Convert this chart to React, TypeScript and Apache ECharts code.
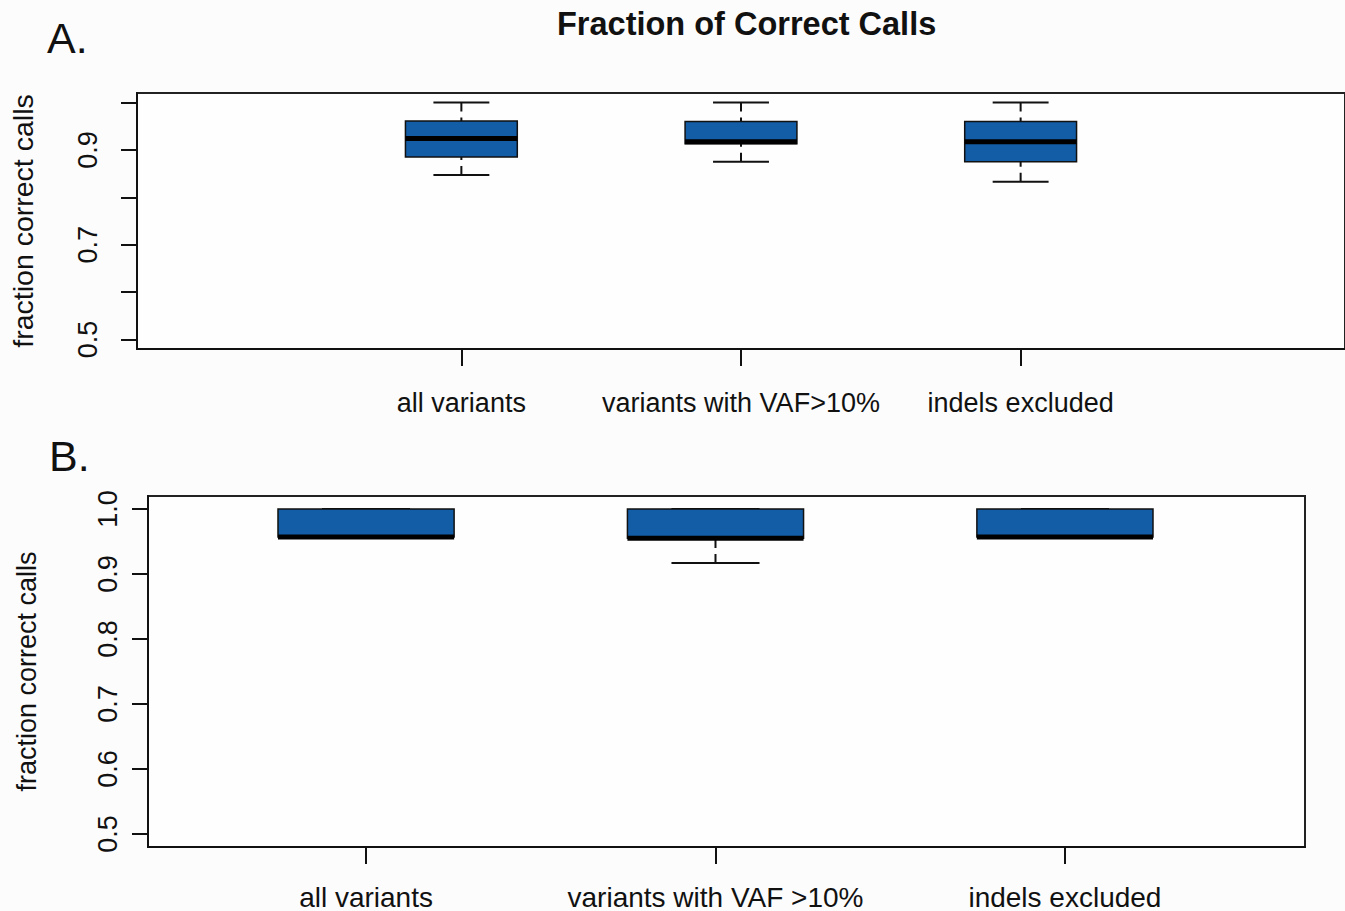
import React, { useEffect, useRef } from "react";
import * as echarts from "echarts";

// ---- Data ----
const positions = [1, 2, 3];
const categoriesA = ["all variants", "variants with VAF>10%", "indels excluded"];
const categoriesB = ["all variants", "variants with VAF >10%", "indels excluded"];

// Panel A: five-number summaries
const aMin = [0.847, 0.875, 0.833];
const aQ1 = [0.885, 0.913, 0.875];
const aMedian = [0.924, 0.917, 0.917];
const aQ3 = [0.961, 0.96, 0.96];
const aMax = [1.0, 1.0, 1.0];

// Panel B: five-number summaries
const bMin = [0.957, 0.917, 0.957];
const bQ1 = [0.957, 0.955, 0.957];
const bMedian = [0.957, 0.955, 0.957];
const bQ3 = [1.0, 1.0, 1.0];
const bMax = [1.0, 1.0, 1.0];

const yTicks = [0.5, 0.6, 0.7, 0.8, 0.9, 1.0];
const yLabelsA = [0.5, 0.7, 0.9];
const yLabelsB = [0.5, 0.6, 0.7, 0.8, 0.9, 1.0];

const FONT = '"Liberation Sans", Arial, Helvetica, sans-serif';
const BOX_FILL = "#135ca6";
const INK = "#111111";

function buildData(mins: number[], q1: number[], med: number[], q3: number[], max: number[]) {
  return positions.map((p, i) => [p, mins[i], q1[i], med[i], q3[i], max[i]]);
}

function makeRender(boxWidth: number) {
  return (params: any, api: any) => {
    const x = api.value(0);
    const pMin = api.coord([x, api.value(1)]);
    const pQ1 = api.coord([x, api.value(2)]);
    const pMed = api.coord([x, api.value(3)]);
    const pQ3 = api.coord([x, api.value(4)]);
    const pMax = api.coord([x, api.value(5)]);
    const cx = pMin[0];
    const half = api.size([boxWidth, 0])[0] / 2;
    const capHalf = half / 2;
    const dash = { stroke: INK, lineWidth: 2, lineDash: [9, 6] };
    const solid = { stroke: INK, lineWidth: 2 };
    return {
      type: "group",
      children: [
        { type: "line", shape: { x1: cx, y1: pMax[1], x2: cx, y2: pQ3[1] }, style: dash },
        { type: "line", shape: { x1: cx, y1: pMin[1], x2: cx, y2: pQ1[1] }, style: dash },
        { type: "line", shape: { x1: cx - capHalf, y1: pMax[1], x2: cx + capHalf, y2: pMax[1] }, style: solid },
        { type: "line", shape: { x1: cx - capHalf, y1: pMin[1], x2: cx + capHalf, y2: pMin[1] }, style: solid },
        {
          type: "rect",
          shape: { x: cx - half, y: pQ3[1], width: half * 2, height: pQ1[1] - pQ3[1] },
          style: { fill: BOX_FILL, stroke: INK, lineWidth: 1.5 },
        },
        {
          type: "line",
          shape: { x1: cx - half, y1: pMed[1], x2: cx + half, y2: pMed[1] },
          style: { stroke: "#000", lineWidth: 5 },
        },
      ],
    };
  };
}

function yAxisCfg(gridIndex: number, labels: number[], margin: number, nameGap: number, nameSize: number) {
  return {
    type: "value",
    gridIndex,
    min: 0.48,
    max: 1.02,
    splitLine: { show: false },
    axisLine: { show: true, onZero: false, lineStyle: { color: INK, width: 2 } },
    axisTick: { show: true, customValues: yTicks, length: 16, lineStyle: { color: INK, width: 2 } },
    axisLabel: {
      show: true,
      customValues: labels,
      rotate: 90,
      margin,
      color: "#111",
      fontFamily: FONT,
      fontSize: 27,
      formatter: (v: number) => v.toFixed(1),
    },
    name: "fraction correct calls",
    nameLocation: "middle",
    nameRotate: 90,
    nameGap,
    nameTextStyle: { color: "#111", fontFamily: FONT, fontSize: nameSize },
  };
}

function xAxisCfg(gridIndex: number, min: number, max: number, cats: string[], margin: number, size: number) {
  return {
    type: "value",
    gridIndex,
    min,
    max,
    splitLine: { show: false },
    axisLine: { show: true, onZero: false, lineStyle: { color: INK, width: 2 } },
    axisTick: { show: true, customValues: positions, length: 17, lineStyle: { color: INK, width: 2 } },
    axisLabel: {
      show: true,
      customValues: positions,
      margin,
      color: "#111",
      fontFamily: FONT,
      fontSize: size,
      formatter: (v: number) => cats[Math.round(v) - 1] ?? "",
    },
  };
}

export default function App() {
  const ref = useRef<HTMLDivElement>(null);
  useEffect(() => {
    if (!ref.current) return;
    const chart = echarts.init(ref.current, undefined, { renderer: "svg" });
    chart.setOption({
      animation: false,
      backgroundColor: "#fcfcfc",
      grid: [
        { left: 134, top: 93, width: 1218, height: 256, show: true, borderColor: "#222", borderWidth: 2, backgroundColor: "#fefefe" },
        { left: 148, top: 496, width: 1157, height: 352, show: true, borderColor: "#222", borderWidth: 2, backgroundColor: "#fefefe" },
      ],
      xAxis: [
        xAxisCfg(0, -0.16, 4.16, categoriesA, 40, 27),
        xAxisCfg(1, 0.376, 3.687, categoriesB, 36, 28),
      ],
      yAxis: [yAxisCfg(0, yLabelsA, 36, 100, 28.5), yAxisCfg(1, yLabelsB, 27, 108, 27)],
      graphic: [
        { type: "text", left: 47, top: 16, style: { text: "A.", font: `43px ${FONT}`, fill: "#111" } },
        { type: "text", left: 49, top: 434, style: { text: "B.", font: `43px ${FONT}`, fill: "#111" } },
        { type: "text", left: 557, top: 7, style: { text: "Fraction of Correct Calls", font: `bold 32.5px ${FONT}`, fill: "#111" } },
      ],
      series: [
        {
          type: "custom",
          xAxisIndex: 0,
          yAxisIndex: 0,
          encode: { x: 0, y: [1, 2, 3, 4, 5] },
          data: buildData(aMin, aQ1, aMedian, aQ3, aMax),
          renderItem: makeRender(0.4),
        },
        {
          type: "custom",
          xAxisIndex: 1,
          yAxisIndex: 1,
          encode: { x: 0, y: [1, 2, 3, 4, 5] },
          data: buildData(bMin, bQ1, bMedian, bQ3, bMax),
          renderItem: makeRender(0.504),
        },
      ],
    });
    return () => chart.dispose();
  }, []);
  return <div ref={ref} style={{ position: "fixed", left: 0, top: 0, width: 1345, height: 911 }} />;
}
